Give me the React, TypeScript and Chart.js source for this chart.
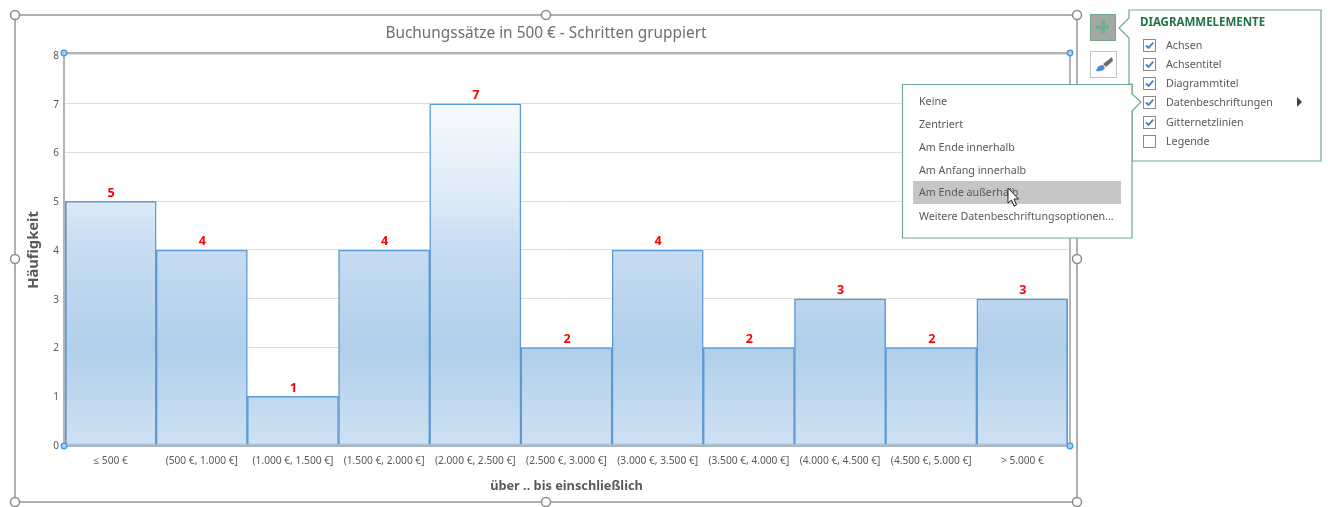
import React, { useEffect, useRef } from "react";
import { Chart, registerables } from "chart.js";

Chart.register(...registerables);

const categories = ["≤ 500 €", "(500 €, 1.000 €]", "(1.000 €, 1.500 €]", "(1.500 €, 2.000 €]", "(2.000 €, 2.500 €]", "(2.500 €, 3.000 €]", "(3.000 €, 3.500 €]", "(3.500 €, 4.000 €]", "(4.000 €, 4.500 €]", "(4.500 €, 5.000 €]", "> 5.000 €"];
const frequencies = [5, 4, 1, 4, 7, 2, 4, 2, 3, 2, 3];
const chartTitle = "Buchungssätze in 500 € - Schritten gruppiert";
const xAxisTitle = "über .. bis einschließlich";
const yAxisTitle = "Häufigkeit";
const elementItems = ["Achsen", "Achsentitel", "Diagrammtitel", "Datenbeschriftungen", "Gitternetzlinien", "Legende"];
const elementChecked = [true, true, true, true, true, false];
const elementRows = [45, 64, 83, 102, 122, 141];
const labelOptions = ["Keine", "Zentriert", "Am Ende innerhalb", "Am Anfang innerhalb", "Am Ende außerhalb", "Weitere Datenbeschriftungsoptionen..."];
const labelRows = [101, 124, 147, 170, 192, 216];

const FONT = '"Noto Sans", "Open Sans", sans-serif';
const GREEN = "#6fa98a";

const decorations = {
  id: "decorations",
  afterDatasetsDraw(chart: any) {
    const { ctx, chartArea: a } = chart;
    const meta = chart.getDatasetMeta(0);
    ctx.save();
    ctx.font = `bold 12.5px ${FONT}`;
    ctx.fillStyle = "#ff0000";
    ctx.textAlign = "center";
    ctx.textBaseline = "bottom";
    meta.data.forEach((bar: any, i: number) => {
      ctx.fillText(String(frequencies[i]), bar.x + 0.5, bar.y - 2);
    });

    ctx.strokeStyle = "#b4b4b4";
    ctx.lineWidth = 2;
    ctx.beginPath();
    ctx.moveTo(a.left - 1, a.bottom + 1);
    ctx.lineTo(a.left - 1, a.top - 2);
    ctx.lineTo(a.right + 2, a.top - 2);
    ctx.lineTo(a.right + 2, a.bottom + 1);
    ctx.closePath();
    ctx.stroke();

    ctx.strokeStyle = "#b0b0b0";
    ctx.strokeRect(15, 15, 1062, 487);

    const outer = [[15, 15], [546, 15], [1077, 15], [15, 259], [1077, 259], [15, 502], [546, 502], [1077, 502]];
    outer.forEach(([x, y]) => {
      ctx.beginPath();
      ctx.arc(x, y, 4.5, 0, Math.PI * 2);
      ctx.fillStyle = "#ffffff";
      ctx.fill();
      ctx.strokeStyle = "#8c8c8c";
      ctx.lineWidth = 1.5;
      ctx.stroke();
    });
    const inner = [[a.left - 1, a.top - 2], [a.right + 2, a.top - 2], [a.left - 1, a.bottom + 1], [a.right + 2, a.bottom + 1]];
    inner.forEach(([x, y]) => {
      ctx.beginPath();
      ctx.arc(x, y, 2.8, 0, Math.PI * 2);
      ctx.fillStyle = "#9fd0f5";
      ctx.fill();
      ctx.strokeStyle = "#3f9be8";
      ctx.lineWidth = 1.3;
      ctx.stroke();
    });
    ctx.restore();
  },
};

const abs = (left: number, top: number, extra: any = {}) => ({ position: "absolute", left, top, ...extra });

function Text({ x, y, children, color = "#595959", bold = false, size = 10.7 }: any) {
  return (
    <div style={abs(x, y - 9, { height: 18, lineHeight: "18px", fontFamily: FONT, fontSize: size, color, fontWeight: bold ? 700 : 400, whiteSpace: "nowrap" }) as any}>
      {children}
    </div>
  );
}

export default function App() {
  const ref = useRef<HTMLCanvasElement>(null);
  useEffect(() => {
    const chart = new Chart(ref.current as HTMLCanvasElement, {
      type: "bar",
      data: {
        labels: categories,
        datasets: [
          {
            label: yAxisTitle,
            data: frequencies,
            barPercentage: 1,
            categoryPercentage: 1,
            borderColor: "#5b9bd5",
            borderSkipped: false,
            borderWidth: (c: any) => ({
              top: 1.6,
              bottom: 1,
              left: c.dataIndex === 0 ? 2 : 1.5,
              right: c.dataIndex === frequencies.length - 1 ? 2 : 1.5,
            }),
            backgroundColor: (c: any) => {
              const { chart: ch } = c;
              if (!ch.chartArea) return "#c5dcf0";
              const y = ch.scales.y;
              const g = ch.ctx.createLinearGradient(0, y.getPixelForValue(7), 0, y.getPixelForValue(0));
              g.addColorStop(0, "#f7fbfe");
              g.addColorStop(0.28, "#dceaf6");
              g.addColorStop(0.43, "#c6dcf1");
              g.addColorStop(0.72, "#b1cfea");
              g.addColorStop(1, "#cfe1f3");
              return g;
            },
          } as any,
        ],
      },
      options: {
        responsive: false,
        animation: false,
        layout: { padding: { left: 24, right: 260, top: 0, bottom: 0 } },
        plugins: {
          legend: { display: false },
          tooltip: { enabled: false },
          title: {
            display: true,
            text: chartTitle,
            color: "#6e6e6e",
            font: { family: FONT, size: 15.4, weight: "normal" },
            padding: { top: 24, bottom: 12.5 },
          },
        },
        scales: {
          x: {
            grid: { display: false },
            border: { display: false },
            afterFit: (s: any) => { s.height = 62; },
            ticks: { color: "#595959", font: { family: FONT, size: 10.2 }, autoSkip: false, maxRotation: 0, minRotation: 0, padding: 2 },
            title: { display: true, text: xAxisTitle, color: "#595959", font: { family: FONT, size: 12.75, weight: "bold" }, padding: { top: 0, bottom: 13 } },
          },
          y: {
            min: 0,
            max: 8,
            afterFit: (s: any) => { s.width = 41; },
            grid: { color: "#dedede", drawTicks: false },
            border: { display: false },
            ticks: { stepSize: 1, color: "#595959", font: { family: FONT, size: 10 }, padding: 6, labelOffset: 1 },
            title: { display: true, text: yAxisTitle, color: "#595959", font: { family: FONT, size: 14.7, weight: "bold" }, padding: { top: 1, bottom: 0 } },
          },
        },
      } as any,
      plugins: [decorations],
    });
    return () => chart.destroy();
  }, []);

  return (
    <div style={{ position: "absolute", left: 0, top: 0, width: 1328, height: 507, background: "#fff", overflow: "hidden" }}>
      <canvas ref={ref} width={1328} height={507} style={{ position: "absolute", left: 0, top: 0, display: "block" }} />

      {/* side buttons */}
      <div style={abs(1090, 14, { width: 26, height: 27, boxSizing: "border-box", background: "#a5a8a6", border: `1.5px solid ${GREEN}` }) as any}>
        <div style={abs(5, 10, { width: 13, height: 4, background: "#6fb08d" }) as any} />
        <div style={abs(9.5, 5, { width: 4, height: 14, background: "#6fb08d" }) as any} />
      </div>
      <div style={abs(1090, 51, { width: 27, height: 27, boxSizing: "border-box", background: "#fff", border: "1px solid #c4c4c4" }) as any}>
        <svg width="25" height="25" style={{ display: "block" }}>
          <path d="M21 5 L12 12 L15 15 L22 9 Z" fill="#6d6d6d" />
          <path d="M5 19 Q7 12 12 13 L14 16 Q11 20 5 19 Z" fill="#4f8fd0" />
        </svg>
      </div>

      {/* panels */}
      <svg width="1328" height="507" style={{ position: "absolute", left: 0, top: 0, pointerEvents: "none" }}>
        <path d="M1129 10 H1321 V161 H1132 V84 H1129 V38 L1119 28 L1129 18 Z" fill="#fff" stroke={GREEN} strokeWidth="1.2" />
        <path d="M902.5 84.5 H1132 V94 L1141 102 L1132 111 V238 H902.5 Z" fill="#fff" stroke={GREEN} strokeWidth="1.2" />
        <rect x="913" y="181" width="208" height="23" fill="#c6c6c6" />
      </svg>

      <Text x={1140} y={22} color="#217346" bold size={11.5}>DIAGRAMMELEMENTE</Text>
      {elementItems.map((t, i) => (
        <React.Fragment key={t}>
          <div style={abs(1143, elementRows[i] - 6, { width: 13, height: 13, boxSizing: "border-box", background: "#fff", border: "1px solid #8a8a8a" }) as any}>
            {elementChecked[i] && (
              <svg width="11" height="11" style={{ display: "block" }}>
                <path d="M2 5.5 L4.6 8 L9.2 2.6" fill="none" stroke="#3f7fc4" strokeWidth="1.8" />
              </svg>
            )}
          </div>
          <Text x={1166} y={elementRows[i]}>{t}</Text>
        </React.Fragment>
      ))}
      <svg width="8" height="12" style={{ position: "absolute", left: 1296, top: 96 }}>
        <path d="M1 1 L6 6 L1 11 Z" fill="#404040" />
      </svg>

      {labelOptions.map((t, i) => (
        <Text key={t} x={919} y={labelRows[i]}>{t}</Text>
      ))}

      {/* pointer */}
      <svg width="16" height="22" style={{ position: "absolute", left: 1007, top: 187 }}>
        <path d="M1 1 V16 L4.5 13 L7 19 L9.5 18 L7 12 H11.5 Z" fill="#fff" stroke="#222" strokeWidth="1" />
      </svg>
    </div>
  );
}
